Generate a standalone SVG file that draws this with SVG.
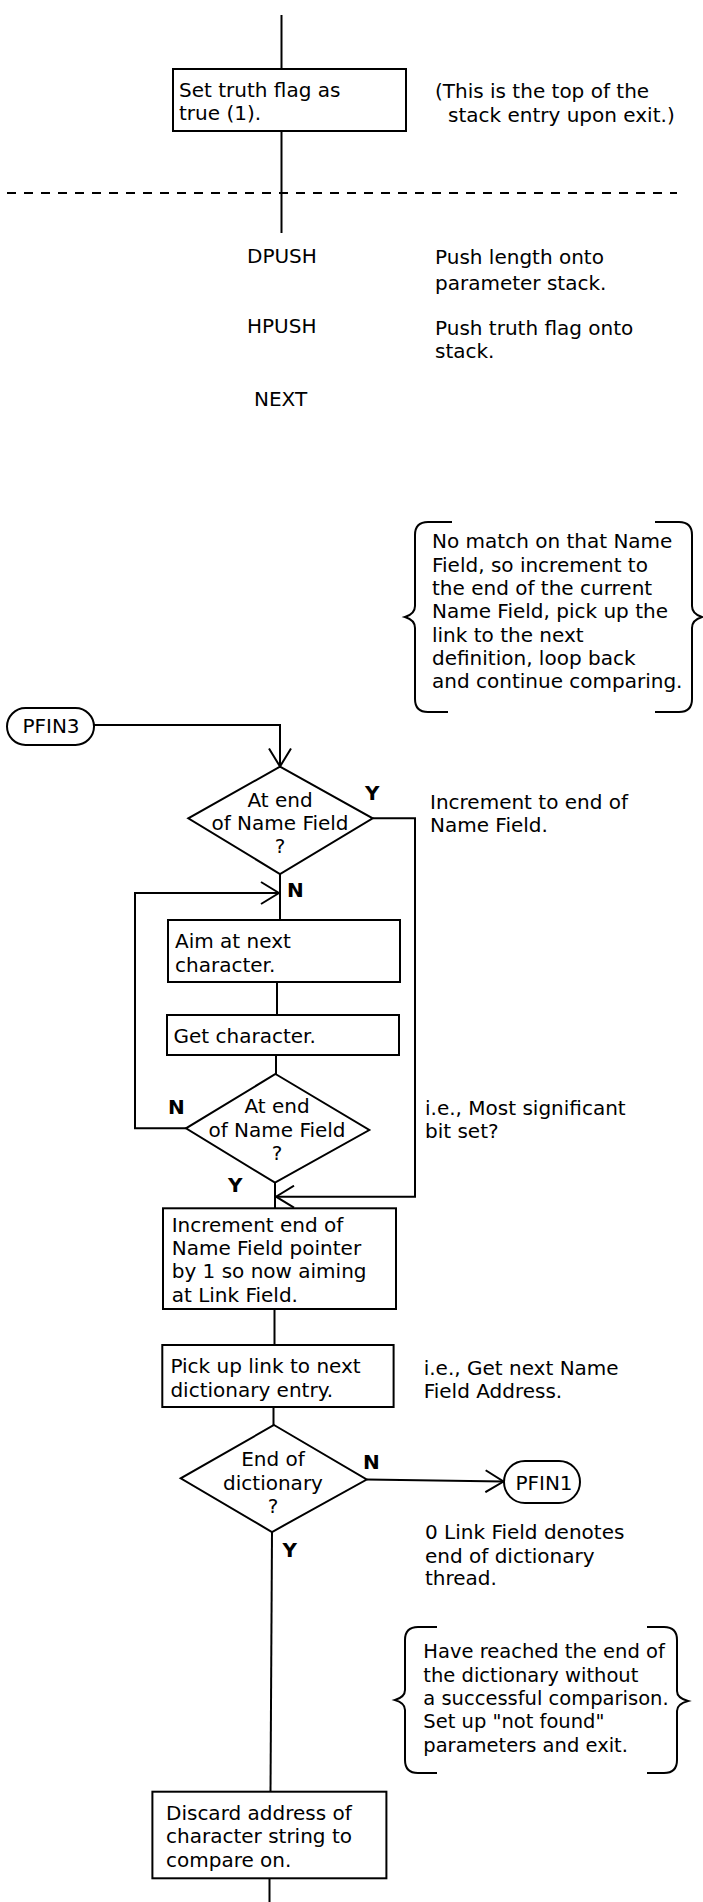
<svg xmlns="http://www.w3.org/2000/svg" width="703" height="1902" viewBox="0 0 703 1902">
<style>
text{font-family:"DejaVu Sans","Liberation Sans",sans-serif;font-size:20px;fill:#000}
.c{text-anchor:middle}
.b{font-weight:bold}
.s{font-size:19.5px}
.box{fill:#fff;stroke:#000;stroke-width:2}
.ln{fill:none;stroke:#000;stroke-width:2}
.dash{fill:none;stroke:#000;stroke-width:2;stroke-dasharray:9 8}
</style>
<defs>
<marker id="arr" markerUnits="userSpaceOnUse" viewBox="0 0 20 24" refX="19" refY="12" markerWidth="20" markerHeight="24" orient="auto">
<path d="M1,1 L19,12 L1,23" fill="none" stroke="#000" stroke-width="2"/>
</marker>
</defs>
<rect width="703" height="1902" fill="#fff"/>

<g id="connectors">
<path class="ln" d="M281.5,15 V69"/>
<path class="ln" d="M281.5,131 V233"/>
<path class="dash" d="M7,193 H677"/>
<path class="ln" d="M94,725 H280 V766.5" marker-end="url(#arr)"/>
<path class="ln" d="M280,874 V920"/>
<path class="ln" d="M186,1128.3 H135 V893 H279" marker-end="url(#arr)"/>
<path class="ln" d="M277,982 V1015"/>
<path class="ln" d="M276,1055 V1074"/>
<path class="ln" d="M372.7,818.3 H415 V1196.7 H276" marker-end="url(#arr)"/>
<path class="ln" d="M275,1182.7 V1208.3"/>
<path class="ln" d="M274.5,1309 V1345"/>
<path class="ln" d="M273.5,1407 V1425"/>
<path class="ln" d="M366.7,1479.5 L503.5,1481.5" marker-end="url(#arr)"/>
<path class="ln" d="M272,1532 L270.5,1792"/>
<path class="ln" d="M269.5,1878 V1902"/>
</g>

<g id="n-settruth">
<rect class="box" x="173" y="69" width="233" height="62"/>
<text x="179" y="97">Set truth flag as</text>
<text x="179" y="120">true (1).</text>
</g>
<g id="note-topofstack">
<text x="435" y="98">(This is the top of the</text>
<text x="448" y="122">stack entry upon exit.)</text>
</g>

<g id="n-dpush">
<text x="247" y="263">DPUSH</text>
<text x="435" y="264">Push length onto</text>
<text x="435" y="290">parameter stack.</text>
</g>
<g id="n-hpush">
<text x="247" y="333">HPUSH</text>
<text x="435" y="335">Push truth flag onto</text>
<text x="435" y="358">stack.</text>
</g>
<g id="n-next">
<text x="254" y="406">NEXT</text>
</g>

<g id="note-nomatch">
<path class="ln" d="M452,522 H428 Q415,522 415,535 V606 Q415,614 405,617 Q415,620 415,628 V699 Q415,712 428,712 H448"/>
<path class="ln" d="M655,522 H679 Q692,522 692,535 V606 Q692,614 702,617 Q692,620 692,628 V699 Q692,712 679,712 H655"/>
<text x="432" y="548.3">No match on that Name</text>
<text x="432" y="571.7">Field, so increment to</text>
<text x="432" y="595">the end of the current</text>
<text x="432" y="618.3">Name Field, pick up the</text>
<text x="432" y="641.7">link to the next</text>
<text x="432" y="665">definition, loop back</text>
<text x="432" y="688.3">and continue comparing.</text>
</g>

<g id="n-pfin3">
<rect class="box" x="7" y="708" width="87" height="37" rx="18.5"/>
<text class="c" x="51" y="733">PFIN3</text>
</g>

<g id="n-atend1">
<polygon class="box" points="280,766.7 372.7,818.3 280,874 188.3,818.3"/>
<text class="c" x="280" y="806.7">At end</text>
<text class="c" x="280" y="830">of Name Field</text>
<text class="c" x="280" y="853.3">?</text>
<text class="b" x="365" y="800">Y</text>
<text class="b" x="287" y="897">N</text>
</g>
<g id="note-increment">
<text x="430" y="809">Increment to end of</text>
<text x="430" y="832">Name Field.</text>
</g>

<g id="n-aim">
<rect class="box" x="168" y="920" width="232" height="62"/>
<text x="175" y="948.3">Aim at next</text>
<text x="175" y="971.7">character.</text>
</g>

<g id="n-get">
<rect class="box" x="167" y="1015" width="232" height="40"/>
<text x="173.5" y="1043">Get character.</text>
</g>

<g id="n-atend2">
<polygon class="box" points="275.5,1074 369.3,1130 275,1182.7 186,1128.3"/>
<text class="c" x="277" y="1113.3">At end</text>
<text class="c" x="277" y="1136.7">of Name Field</text>
<text class="c" x="277" y="1160">?</text>
<text class="b" x="168" y="1114">N</text>
<text class="b" x="228" y="1192">Y</text>
</g>
<g id="note-msb">
<text x="425" y="1115">i.e., Most significant</text>
<text x="425" y="1138.3">bit set?</text>
</g>

<g id="n-incend">
<rect class="box" x="163" y="1208.3" width="233" height="100.7"/>
<text x="171.7" y="1231.7">Increment end of</text>
<text x="171.7" y="1255">Name Field pointer</text>
<text x="171.7" y="1278.3">by 1 so now aiming</text>
<text x="171.7" y="1301.7">at Link Field.</text>
</g>

<g id="n-pickup">
<rect class="box" x="162.3" y="1345" width="231.3" height="62"/>
<text x="170.4" y="1373.3">Pick up link to next</text>
<text x="170.4" y="1396.7">dictionary entry.</text>
</g>
<g id="note-getnext">
<text x="423.7" y="1375">i.e., Get next Name</text>
<text x="423.7" y="1398">Field Address.</text>
</g>

<g id="n-enddict">
<polygon class="box" points="274,1425 366.7,1479.5 272,1532 180.7,1478.3"/>
<text class="c" x="273" y="1466">End of</text>
<text class="c" x="273" y="1490">dictionary</text>
<text class="c" x="273" y="1513">?</text>
<text class="b" x="363" y="1469">N</text>
<text class="b" x="282.5" y="1557">Y</text>
</g>

<g id="n-pfin1">
<rect class="box" x="504" y="1461" width="76" height="42" rx="21"/>
<text class="c" x="544" y="1490">PFIN1</text>
</g>
<g id="note-zerolink">
<text x="425" y="1539">0 Link Field denotes</text>
<text x="425" y="1562.5">end of dictionary</text>
<text x="425" y="1585">thread.</text>
</g>

<g id="note-notfound">
<path class="ln" d="M437,1627 H418 Q405,1627 405,1640 V1690 Q405,1697 395,1700 Q405,1703 405,1710 V1760 Q405,1773 418,1773 H437"/>
<path class="ln" d="M647,1627 H664 Q677,1627 677,1640 V1691 Q677,1698 688,1701 Q677,1704 677,1711 V1760 Q677,1773 664,1773 H647"/>
<text class="s" x="423.3" y="1658.3">Have reached the end of</text>
<text class="s" x="423.3" y="1681.7">the dictionary without</text>
<text class="s" x="423.3" y="1705">a successful comparison.</text>
<text class="s" x="423.3" y="1728.3">Set up "not found"</text>
<text class="s" x="423.3" y="1752">parameters and exit.</text>
</g>

<g id="n-discard">
<rect class="box" x="152.4" y="1791.7" width="234" height="86.6"/>
<text x="166" y="1820">Discard address of</text>
<text x="166" y="1843.3">character string to</text>
<text x="166" y="1866.7">compare on.</text>
</g>
</svg>
